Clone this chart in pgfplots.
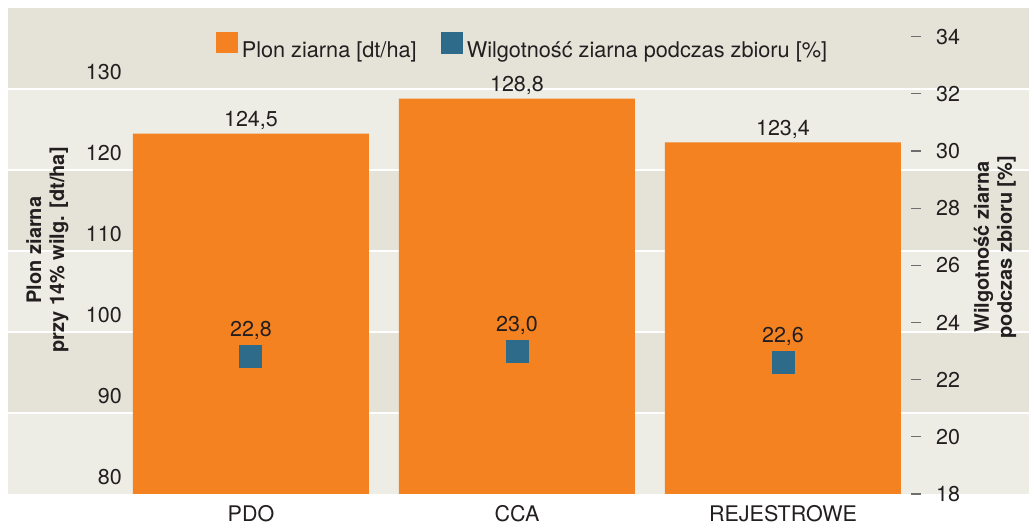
\documentclass[border=0pt]{standalone}
\usepackage{fontspec}
\setmainfont{TeX Gyre Heros}
\usepackage{pgfplots}
\pgfplotsset{compat=1.18}
\definecolor{barorange}{RGB}{245,130,32}
\definecolor{sqblue}{RGB}{46,107,138}
\definecolor{banddark}{RGB}{229,227,216}
\definecolor{bandlight}{RGB}{237,237,229}
\definecolor{tickgray}{RGB}{110,110,110}
\definecolor{txt}{RGB}{35,31,32}
\newcommand\f{\fontsize{21.5}{25}\selectfont}
\newcommand\fl{\fontsize{21.7}{25}\selectfont}
\newcommand\fb{\fontsize{20}{23}\selectfont\bfseries}
\begin{document}
\begin{tikzpicture}
\begin{axis}[
  at={(0pt,0pt)}, anchor=south west,
  scale only axis, width=1021pt, height=486pt,
  xmin=-0.9135, xmax=2.925, ymin=80, ymax=140,
  axis on top,
  axis line style={draw=none},
  tick style={draw=none}, major tick length=0pt,
  /pgf/number format/assume math mode=true,
  ytick={80,90,...,130},
  yticklabel style={font=\f, text=txt, anchor=base east, inner sep=0pt, xshift=114pt, yshift=9pt},
  xtick={0,1,2}, xticklabels={PDO,CCA,REJESTROWE},
  xticklabel style={font=\f, text=txt, anchor=base, inner sep=0pt, yshift=-28pt},
  ylabel={Plon ziarna\\przy 14\% wilg. [dt/ha]},
  every axis y label/.style={at={(axis description cs:0.0385,0.502)}, anchor=center, rotate=90, align=center, font=\fb, text=txt},
  legend style={at={(0.505,0.919)}, anchor=center, draw=none, fill=none, font=\fl, text=txt,
    legend columns=2, nodes={inner sep=4pt},
    /tikz/every even column/.append style={column sep=20pt}},
  clip=true,
]
\fill[bandlight] (axis cs:-0.9135,80) rectangle (axis cs:2.925,140);
\fill[banddark] (axis cs:-0.9135,130) rectangle (axis cs:2.925,140);
\fill[banddark] (axis cs:-0.9135,110) rectangle (axis cs:2.925,120);
\fill[banddark] (axis cs:-0.9135,90) rectangle (axis cs:2.925,100);
\foreach \v in {90,100,110,120,130} {
  \edef\tmp{\noexpand\draw[white, line width=1.3pt] (axis cs:-0.9135,\v) -- (axis cs:2.925,\v);}
  \tmp
}
\addplot[ybar, bar width=236pt, fill=barorange, draw=none,
  legend image code/.code={\fill[barorange] (0pt,-2.7pt) rectangle (21.7pt,18.7pt);},
  nodes near coords={\pgfmathprintnumber[fixed,fixed zerofill,precision=1,use comma,assume math mode=true]{\pgfplotspointmeta}},
  every node near coord/.append style={font=\f, text=txt, anchor=base, inner sep=0pt, yshift=7pt}]
  coordinates {(0,124.5) (1,128.8) (2,123.4)};
\addlegendentry{Plon ziarna [dt/ha]}
\addlegendimage{legend image code/.code={\fill[sqblue] (0pt,-2.7pt) rectangle (21.7pt,18.7pt);}}
\addlegendentry{Wilgotność ziarna podczas zbioru [\%]}
\end{axis}
\begin{axis}[
  at={(0pt,0pt)}, anchor=south west,
  scale only axis, width=903pt, height=486pt,
  xmin=-0.9135, xmax=2.4812, ymin=18, ymax=35,
  axis x line=none, axis y line*=right,
  y axis line style={draw=none},
  ytick={18,20,...,34},
  tick align=outside, major tick length=10pt,
  ytick style={tickgray, line width=1.2pt},
  /pgf/number format/assume math mode=true,
  yticklabel style={font=\f, text=txt, anchor=west, inner sep=0pt, xshift=15pt},
  ylabel={Wilgotność ziarna\\podczas zbioru [\%]},
  every axis y label/.style={at={(axis description cs:1.093,0.508)}, anchor=center, rotate=90, align=center, font=\fb, text=txt},
  clip=false,
]
\addplot[only marks, mark=square*, mark size=11pt, mark options={fill=sqblue, draw=sqblue, line width=0pt},
  nodes near coords={\pgfmathprintnumber[fixed,fixed zerofill,precision=1,use comma,assume math mode=true]{\pgfplotspointmeta}},
  every node near coord/.append style={font=\f, text=txt, anchor=base, inner sep=0pt, yshift=20pt}]
  coordinates {(0,22.8) (1,23.0) (2,22.6)};
\end{axis}
\pgfresetboundingbox
\path[use as bounding box] (-8pt,-31pt) rectangle (1021pt,494pt);
\end{tikzpicture}
\end{document}
